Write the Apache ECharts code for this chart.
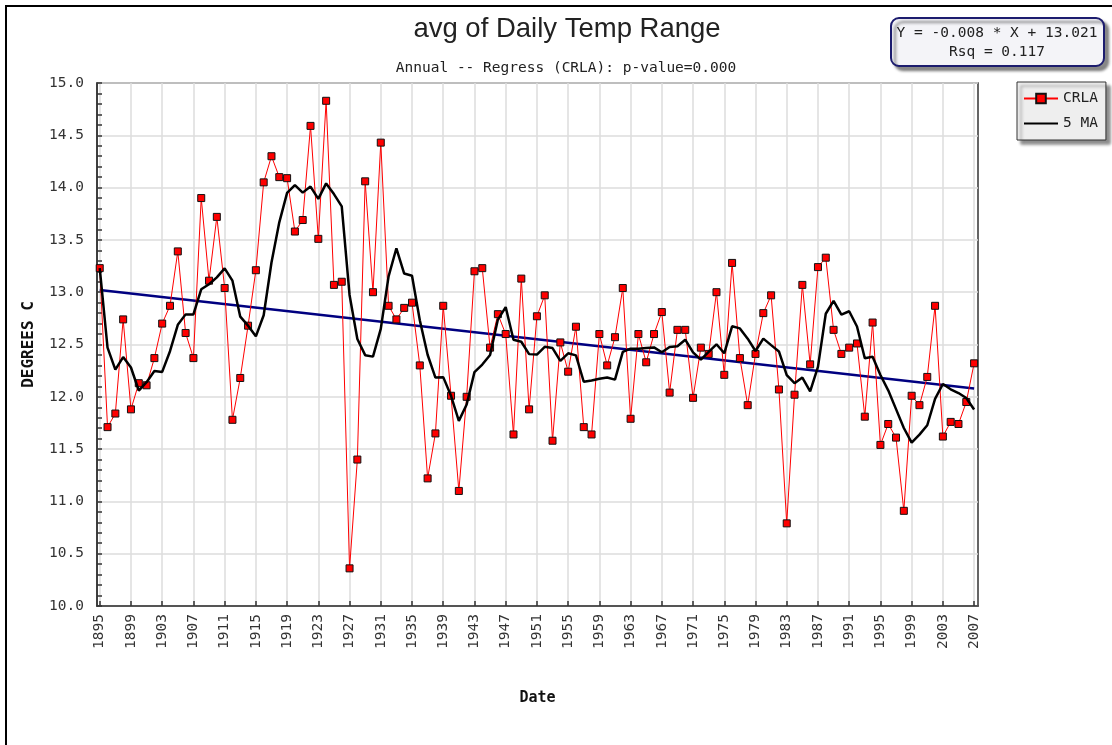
<!DOCTYPE html>
<html>
<head>
<meta charset="utf-8">
<title>avg of Daily Temp Range</title>
<script src="https://cdn.jsdelivr.net/npm/echarts@6/dist/echarts.min.js"></script>
<style>
  html, body { margin: 0; padding: 0; background: #ffffff; }
  #chart { width: 1112px; height: 745px; }
</style>
</head>
<body>
<div id="chart"></div>
<script>
// Annual average daily temperature range, 1895-2007
const startYear = 1895;
const endYear = 2007;
const years = [];
for (let y = startYear; y <= endYear; y++) years.push(y);

const crla = [
  13.23, 11.71, 11.84, 12.74, 11.88, 12.13, 12.11, 12.37, 12.70, 12.87, // 1895-1904
  13.39, 12.61, 12.37, 13.90, 13.11, 13.72, 13.04, 11.78, 12.18, 12.68, // 1905-1914
  13.21, 14.05, 14.30, 14.10, 14.09, 13.58, 13.69, 14.59, 13.51, 14.83, // 1915-1924
  13.07, 13.10, 10.36, 11.40, 14.06, 13.00, 14.43, 12.87, 12.74, 12.85, // 1925-1934
  12.90, 12.30, 11.22, 11.65, 12.87, 12.01, 11.10, 12.00, 13.20, 13.23, // 1935-1944
  12.47, 12.79, 12.60, 11.64, 13.13, 11.88, 12.77, 12.97, 11.58, 12.52, // 1945-1954
  12.24, 12.67, 11.71, 11.64, 12.60, 12.30, 12.57, 13.04, 11.79, 12.60, // 1955-1964
  12.33, 12.60, 12.81, 12.04, 12.64, 12.64, 11.99, 12.47, 12.41, 13.00, // 1965-1974
  12.21, 13.28, 12.37, 11.92, 12.41, 12.80, 12.97, 12.07, 10.79, 12.02, // 1975-1984
  13.07, 12.31, 13.24, 13.33, 12.64, 12.41, 12.47, 12.51, 11.81, 12.71, // 1985-1994
  11.54, 11.74, 11.61, 10.91, 12.01, 11.92, 12.19, 12.87, 11.62, 11.76, // 1995-2004
  11.74, 11.95, 12.32                                                    // 2005-2007
];

// Regression of CRLA on year index (X = 0 at 1895)
const trendSlope = -0.0084;
const trendIntercept = 13.021;
const trendRsq = 0.117;
const pValue = 0.000;

// Labelled years on the date axis
const tickYears = [];
for (let y = startYear; y <= endYear; y += 4) tickYears.push(y);

// Trailing 5-year moving average (shorter window for the first years)
const maWindow = 5;
const movingAvg = crla.map((v, i) => {
  const from = Math.max(0, i - maWindow + 1);
  const slice = crla.slice(from, i + 1);
  return +(slice.reduce((a, b) => a + b, 0) / slice.length).toFixed(3);
});

const crlaData = years.map((y, i) => [y, crla[i]]);
const maData = years.map((y, i) => [y, movingAvg[i]]);
const trendData = [
  [startYear, trendIntercept],
  [endYear, trendIntercept + trendSlope * (endYear - startYear)]
];

const mono = '"DejaVu Sans Mono", "Liberation Mono", monospace';
const eqText = 'Y = ' + trendSlope.toFixed(3) + ' * X + ' + trendIntercept.toFixed(3);
const rsqText = 'Rsq = ' + trendRsq.toFixed(3);

const chart = echarts.init(document.getElementById('chart'), null, { renderer: 'canvas' });

chart.setOption({
  backgroundColor: '#ffffff',
  animation: false,
  title: [
    {
      text: 'avg of Daily Temp Range',
      left: 562,
      top: 10,
      textAlign: 'center',
      textStyle: { fontFamily: '"Liberation Sans", Arial, sans-serif', fontSize: 27.5, fontWeight: 'normal', color: '#222222' }
    },
    {
      text: 'Annual -- Regress (CRLA): p-value=' + pValue.toFixed(3),
      left: 561,
      top: 56,
      textAlign: 'center',
      textStyle: { fontFamily: mono, fontSize: 14.5, fontWeight: 'normal', color: '#222222' }
    }
  ],
  legend: {
    data: [
      { name: 'CRLA' },
      { name: '5 MA', itemStyle: { opacity: 0 } }
    ],
    orient: 'vertical',
    left: 1017,
    top: 82,
    padding: [9, 8, 9, 6],
    itemGap: 10,
    itemWidth: 34,
    itemHeight: 12,
    backgroundColor: '#eeeeee',
    borderColor: '#333333',
    borderWidth: 1,
    borderRadius: 0,
    shadowColor: 'rgba(0,0,0,0.45)',
    shadowBlur: 3,
    shadowOffsetX: 4,
    shadowOffsetY: 4,
    textStyle: { fontFamily: mono, fontSize: 14.5, color: '#222222' }
  },
  grid: {
    left: 97,
    right: 134,
    top: 83,
    bottom: 139,
    show: true,
    borderColor: '#333333',
    borderWidth: 1.5,
    backgroundColor: '#ffffff'
  },
  xAxis: {
    type: 'value',
    min: 1894.65,
    max: 2007.5,
    name: 'Date',
    nameLocation: 'middle',
    nameGap: 85,
    nameTextStyle: { fontFamily: mono, fontSize: 15, fontWeight: 'bold', color: '#111111' },
    axisLine: { show: true, lineStyle: { color: '#333333', width: 1.5 } },
    axisTick: { show: true, inside: true, length: 5, customValues: tickYears, lineStyle: { color: '#333333', width: 1.5 } },
    axisLabel: {
      customValues: tickYears,
      rotate: 90,
      margin: 8,
      fontFamily: mono,
      fontSize: 14.5,
      color: '#333333',
      formatter: v => String(Math.round(v))
    },
    splitLine: { show: true, lineStyle: { color: '#dddddd', width: 1.5 } }
  },
  yAxis: {
    type: 'value',
    min: 10,
    max: 15,
    interval: 0.5,
    name: 'DEGREES C',
    nameLocation: 'middle',
    nameGap: 60,
    nameTextStyle: { fontFamily: mono, fontSize: 16, fontWeight: 'bold', color: '#111111' },
    axisLine: { show: true, lineStyle: { color: '#333333', width: 1.5 } },
    axisTick: { show: true, inside: true, length: 5, lineStyle: { color: '#333333', width: 1.5 } },
    minorTick: { show: true, splitNumber: 5, length: 5, lineStyle: { color: '#333333', width: 1.5 } },
    axisLabel: {
      margin: 13,
      fontFamily: mono,
      fontSize: 14.5,
      color: '#333333',
      formatter: v => v.toFixed(1)
    },
    splitLine: { show: true, lineStyle: { color: '#dddddd', width: 1.5 } }
  },
  series: [
    {
      name: 'Regression',
      type: 'line',
      data: trendData,
      symbol: 'none',
      lineStyle: { color: '#000080', width: 2.5 },
      z: 2,
      silent: true
    },
    {
      name: 'CRLA',
      type: 'line',
      data: crlaData,
      symbol: 'rect',
      symbolSize: 7,
      showAllSymbol: true,
      lineStyle: { color: '#ff0000', width: 1 },
      itemStyle: { color: '#ff0000', borderColor: '#111111', borderWidth: 1 },
      z: 3
    },
    {
      name: '5 MA',
      type: 'line',
      data: maData,
      symbol: 'none',
      lineStyle: { color: '#000000', width: 2.5 },
      itemStyle: { color: '#000000' },
      z: 4
    }
  ],
  graphic: [
    {
      // outer frame of the page
      type: 'rect',
      shape: { x: 6, y: 6, width: 1120, height: 760 },
      style: { fill: 'none', stroke: '#000000', lineWidth: 2 },
      silent: true,
      z: 100
    },
    {
      // regression equation box
      type: 'group',
      left: 890,
      top: 17,
      children: [
        {
          type: 'rect',
          shape: { x: 0, y: 0, width: 213, height: 48, r: 8 },
          style: {
            fill: '#f4f4f8',
            stroke: '#1c1c6e',
            lineWidth: 2,
            shadowColor: 'rgba(0,0,0,0.45)',
            shadowBlur: 3,
            shadowOffsetX: 4,
            shadowOffsetY: 4
          }
        },
        {
          type: 'text',
          x: 106,
          y: 15,
          style: { text: eqText, fontFamily: mono, fontSize: 14.5, fill: '#222222', align: 'center', verticalAlign: 'middle' }
        },
        {
          type: 'text',
          x: 106,
          y: 34,
          style: { text: rsqText, fontFamily: mono, fontSize: 14.5, fill: '#222222', align: 'center', verticalAlign: 'middle' }
        }
      ]
    }
  ]
});
</script>
</body>
</html>
